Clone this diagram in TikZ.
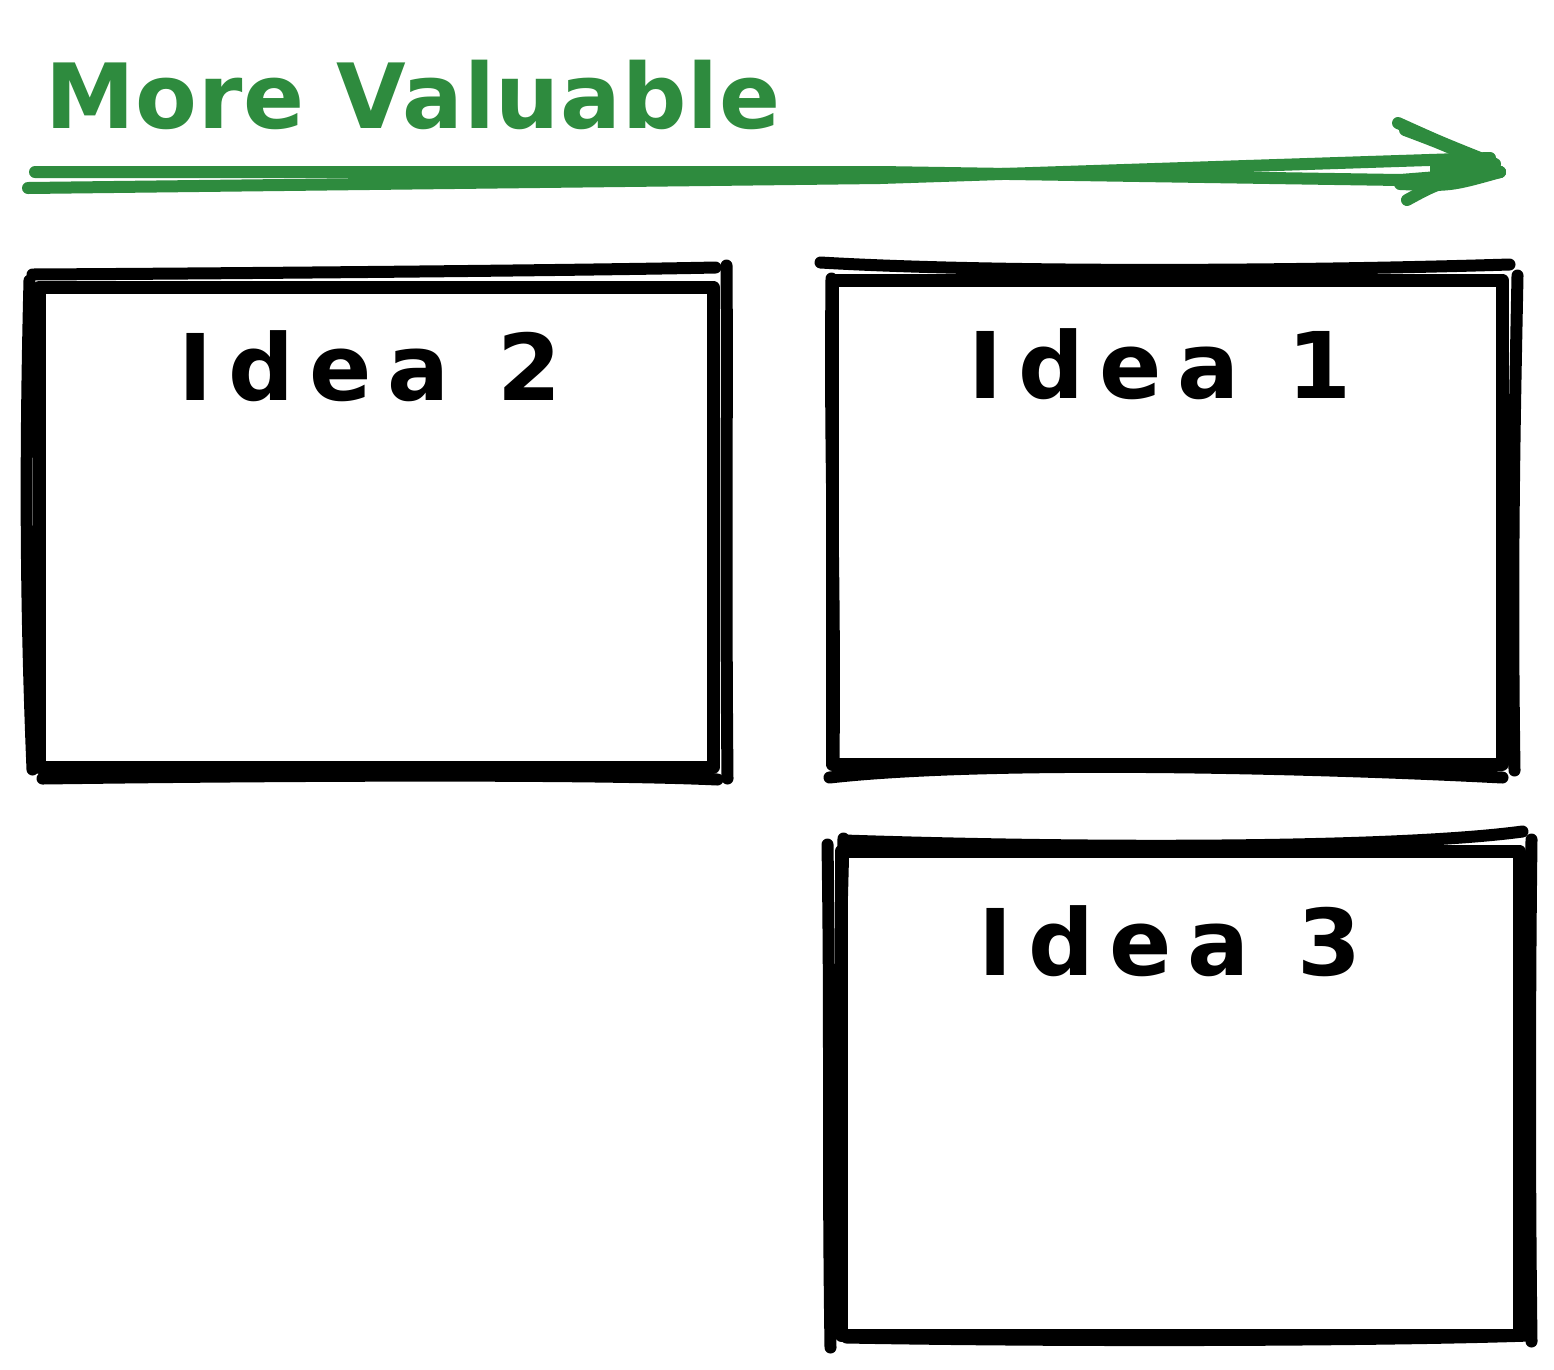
\documentclass[tikz,border=0pt]{standalone}
\usepackage{fontspec}
\setmainfont{DejaVu Sans}
\newfontfamily\handfont[LetterSpace=1]{DejaVu Sans Bold}
\newfontfamily\ideafont[LetterSpace=17]{DejaVu Sans Bold}
\usetikzlibrary{calc}
\definecolor{ExGreen}{RGB}{46,139,62}
\tikzset{
  ideabox/.style={draw=black, line width=13pt, rectangle, inner sep=0pt, line join=round},
  sketch/.style={draw=black, line width=12pt, line cap=round, line join=round},
  ideatext/.style={font=\ideafont\fontsize{92}{100}\selectfont, anchor=base, inner sep=0pt, text=black},
  greenline/.style={draw=ExGreen, line width=12pt, line cap=round, line join=round},
  titletext/.style={font=\handfont\fontsize{90}{100}\selectfont, anchor=base west, inner sep=0pt, text=ExGreen}
}
\begin{document}
\begin{tikzpicture}[x=1pt,y=-1pt]
\useasboundingbox[fill=white] (0,0) rectangle (1554,1369);

% title
\node[titletext] (title) at (45,128) {More Valuable};

% arrow
\coordinate (arrS) at (32,180);
\coordinate (arrE) at (1500,172);
\draw[greenline] ($(arrS)+(3,-8)$) -- (880,172) -- (1400,180) -- (arrE);
\draw[greenline] ($(arrS)+(-4,8)$) -- (880,178) -- ($(arrE)+(-10,-14)$);
\draw[greenline] ($(arrE)+(-102,-49)$) .. controls ($(arrE)+(-60,-30)$) .. ($(arrE)+(-5,-8)$);
\draw[greenline] ($(arrE)+(-95,-42)$) .. controls ($(arrE)+(-50,-25)$) .. (arrE);
\draw[greenline] ($(arrE)+(-93,28)$) .. controls ($(arrE)+(-60,10)$) .. (arrE);
\draw[greenline] ($(arrE)+(-100,12)$) .. controls ($(arrE)+(-50,14)$) .. (arrE);
\fill[ExGreen] ($(arrE)+(-70,-12)$) -- ($(arrE)+(-5,-8)$) -- (arrE) -- ($(arrE)+(-70,10)$) -- cycle;

% Idea 2 box
\node[ideabox, minimum width=674pt, minimum height=480pt] (box2) at (376,527) {};
\draw[sketch] ($(box2.north west)+(0,-6)$) .. controls (300,273) and (600,270) .. ($(box2.north east)+(-4,-13)$);
\draw[sketch] ($(box2.north east)+(7,-15)$) .. controls ($(box2.north east)+(8,100)$) and ($(box2.south east)+(6,-200)$) .. ($(box2.south east)+(8,5)$);
\draw[sketch] ($(box2.north west)+(-3,0)$) .. controls ($(box2.north west)+(-8,200)$) and ($(box2.south west)+(-6,-150)$) .. ($(box2.south west)+(0,-4)$);
\draw[sketch] ($(box2.south west)+(10,5)$) .. controls (300,775) and (600,774) .. ($(box2.south east)+(-2,6)$);
\node[ideatext] (t2) at (370,400) {Idea 2};

% Idea 1 box
\node[ideabox, minimum width=670pt, minimum height=484pt] (box1) at (1167,522) {};
\draw[sketch] ($(box1.north west)+(-5,-11)$) .. controls (1000,273) and (1300,271) .. ($(box1.north east)+(1,-9)$);
\draw[sketch] ($(box1.north east)+(9,2)$) .. controls ($(box1.north east)+(6,150)$) and ($(box1.south east)+(3,-200)$) .. ($(box1.south east)+(6,0)$);
\draw[sketch] ($(box1.north west)+(6,5)$) .. controls ($(box1.north west)+(4,200)$) and ($(box1.south west)+(10,-200)$) .. ($(box1.south west)+(8,-10)$);
\draw[sketch] ($(box1.south west)+(4,7)$) .. controls (985,760) and (1300,767) .. ($(box1.south east)+(-6,7)$);
\node[ideatext] (t1) at (1160,398) {Idea 1};

% Idea 3 box
\node[ideabox, minimum width=678pt, minimum height=484pt] (box3) at (1180,1093) {};
\draw[sketch] ($(box3.north west)+(10,-4)$) .. controls (1100,849) and (1400,848) .. ($(box3.north east)+(-3,-13)$);
\draw[sketch] ($(box3.north east)+(6,-5)$) .. controls ($(box3.north east)+(4,150)$) and ($(box3.south east)+(4,-150)$) .. ($(box3.south east)+(6,0)$);
\draw[sketch] ($(box3.north west)+(-7,0)$) .. controls ($(box3.north west)+(-4,200)$) and ($(box3.south west)+(-7,-200)$) .. ($(box3.south west)+(-4,6)$);
\draw[sketch] ($(box3.north west)+(9,-6)$) -- ($(box3.north west)+(7,70)$);
\draw[sketch] ($(box3.south west)+(12,-4)$) .. controls (1100,1342) and (1400,1340) .. ($(box3.south east)+(4,-6)$);
\node[ideatext] (t3) at (1170,975) {Idea 3};
\end{tikzpicture}
\end{document}
